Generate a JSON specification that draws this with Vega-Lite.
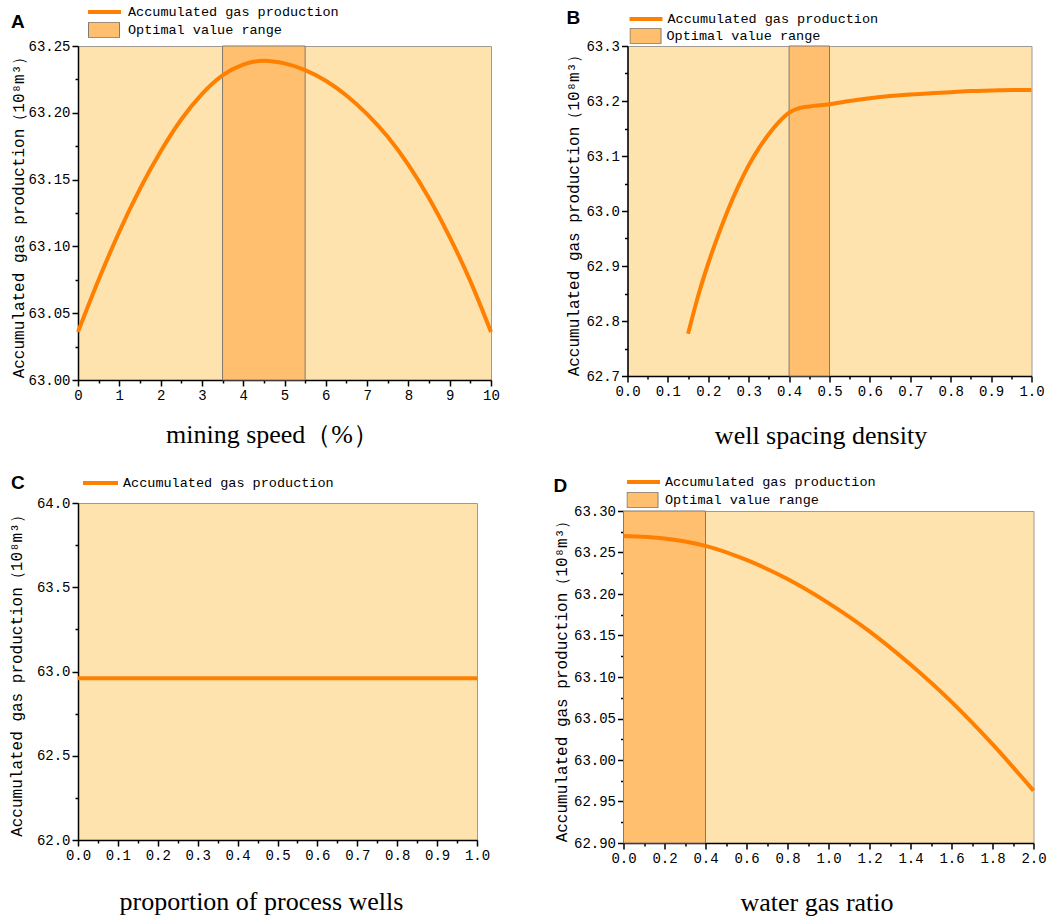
{
  "$schema": "https://vega.github.io/schema/vega-lite/v6.json",
  "background": "white",
  "padding": {"left": 7, "top": 3, "right": 2, "bottom": 0},
  "datasets": {
    "a_curve": [
      {"x": 0, "y": 63.036}, {"x": 0.5, "y": 63.075}, {"x": 1, "y": 63.111}, {"x": 1.5, "y": 63.143},
      {"x": 2, "y": 63.171}, {"x": 2.5, "y": 63.195}, {"x": 3, "y": 63.214}, {"x": 3.5, "y": 63.228},
      {"x": 4, "y": 63.236}, {"x": 4.5, "y": 63.239}, {"x": 5, "y": 63.237}, {"x": 5.5, "y": 63.232},
      {"x": 6, "y": 63.224}, {"x": 6.5, "y": 63.213}, {"x": 7, "y": 63.199}, {"x": 7.5, "y": 63.182},
      {"x": 8, "y": 63.161}, {"x": 8.5, "y": 63.136}, {"x": 9, "y": 63.107}, {"x": 9.5, "y": 63.074},
      {"x": 10, "y": 63.036}
    ],
    "a_range": [{"x": 3.5, "x_end": 5.5}],
    "b_curve": [
      {"x": 0.15, "y": 62.777}, {"x": 0.175, "y": 62.846}, {"x": 0.2, "y": 62.905}, {"x": 0.225, "y": 62.957},
      {"x": 0.25, "y": 63.004}, {"x": 0.275, "y": 63.046}, {"x": 0.3, "y": 63.083}, {"x": 0.325, "y": 63.114},
      {"x": 0.35, "y": 63.14}, {"x": 0.375, "y": 63.162}, {"x": 0.4, "y": 63.179}, {"x": 0.425, "y": 63.187},
      {"x": 0.45, "y": 63.19}, {"x": 0.5, "y": 63.194}, {"x": 0.55, "y": 63.2}, {"x": 0.6, "y": 63.205},
      {"x": 0.65, "y": 63.209}, {"x": 0.7, "y": 63.212}, {"x": 0.75, "y": 63.214}, {"x": 0.8, "y": 63.216},
      {"x": 0.85, "y": 63.218}, {"x": 0.9, "y": 63.219}, {"x": 0.95, "y": 63.22}, {"x": 1.0, "y": 63.22}
    ],
    "b_range": [{"x": 0.4, "x_end": 0.5}],
    "c_curve": [{"x": 0, "y": 62.96}, {"x": 0.5, "y": 62.96}, {"x": 1, "y": 62.96}],
    "d_curve": [
      {"x": 0, "y": 63.27}, {"x": 0.2, "y": 63.267}, {"x": 0.4, "y": 63.258}, {"x": 0.6, "y": 63.241},
      {"x": 0.8, "y": 63.218}, {"x": 1.0, "y": 63.189}, {"x": 1.2, "y": 63.155}, {"x": 1.4, "y": 63.115},
      {"x": 1.6, "y": 63.07}, {"x": 1.8, "y": 63.019}, {"x": 2.0, "y": 62.963}
    ],
    "d_range": [{"x": 0, "x_end": 0.4}]
  },
  "resolve": {
    "scale": {"stroke": "independent", "fill": "independent"},
    "legend": {"stroke": "independent", "fill": "independent"}
  },
  "columns": 2,
  "align": "none",
  "spacing": {"row": 24, "column": 52.5},
  "concat": [
    {
      "width": 413,
      "height": 334,
      "title": {"text": "A", "dx": -67, "dy": 28, "offset": 0, "baseline": "top"},
      "encoding": {
        "x": {
          "field": "x", "type": "quantitative",
          "scale": {"domain": [0, 10], "nice": false, "zero": false},
          "axis": {
            "title": "mining speed（%）", "titleX": 194, "titleY": 54,
            "values": [0, 0.5, 1, 1.5, 2, 2.5, 3, 3.5, 4, 4.5, 5, 5.5, 6, 6.5, 7, 7.5, 8, 8.5, 9, 9.5, 10],
            "labelExpr": "datum.value % 1 === 0 ? format(datum.value, 'd') : ''",
            "tickSize": {"condition": {"test": "datum.value % 1 === 0", "value": 6}, "value": 3}
          }
        }
      },
      "layer": [
        {
          "data": {"name": "a_range"},
          "mark": {"type": "rect", "stroke": "#80796f", "strokeWidth": 1},
          "encoding": {
            "x2": {"field": "x_end"},
            "fill": {
              "datum": "Optimal value range",
              "scale": {"range": ["#FFBF6E"]},
              "legend": {"legendX": 10, "legendY": -24, "labelOffset": 8, "symbolType": "M-1,-0.5H1V0.5H-1Z", "symbolSize": 961}
            }
          }
        },
        {
          "data": {"name": "a_curve"},
          "mark": {"type": "line", "strokeWidth": 4, "interpolate": "monotone"},
          "encoding": {
            "y": {
              "field": "y", "type": "quantitative",
              "scale": {"domain": [63.0, 63.25], "nice": false, "zero": false},
              "axis": {
                "title": "Accumulated gas production（10⁸m³）", "titleX": -60,
                "values": [63.0, 63.025, 63.05, 63.075, 63.1, 63.125, 63.15, 63.175, 63.2, 63.225, 63.25],
                "labelExpr": "abs(datum.value * 20 - round(datum.value * 20)) < 0.001 ? format(datum.value, '.2f') : ''",
                "tickSize": {"condition": {"test": "abs(datum.value * 20 - round(datum.value * 20)) < 0.001", "value": 6}, "value": 3}
              }
            },
            "stroke": {
              "datum": "Accumulated gas production",
              "scale": {"range": ["#FF8000"]},
              "legend": {"legendX": 8, "legendY": -42, "labelOffset": 5, "symbolType": "stroke", "symbolSize": 1089, "symbolStrokeWidth": 4}
            }
          }
        }
      ]
    },
    {
      "width": 404,
      "height": 330,
      "title": {"text": "B", "dx": -61, "dy": 17, "offset": 0, "baseline": "top"},
      "encoding": {
        "x": {
          "field": "x", "type": "quantitative",
          "scale": {"domain": [0, 1], "nice": false, "zero": false},
          "axis": {
            "title": "well spacing density", "titleX": 193, "titleY": 59,
            "values": [0, 0.05, 0.1, 0.15, 0.2, 0.25, 0.3, 0.35, 0.4, 0.45, 0.5, 0.55, 0.6, 0.65, 0.7, 0.75, 0.8, 0.85, 0.9, 0.95, 1],
            "labelExpr": "abs(datum.value * 10 - round(datum.value * 10)) < 0.001 ? format(datum.value, '.1f') : ''",
            "tickSize": {"condition": {"test": "abs(datum.value * 10 - round(datum.value * 10)) < 0.001", "value": 6}, "value": 3}
          }
        }
      },
      "layer": [
        {
          "data": {"name": "b_range"},
          "mark": {"type": "rect", "stroke": "#80796f", "strokeWidth": 1},
          "encoding": {
            "x2": {"field": "x_end"},
            "fill": {
              "datum": "Optimal value range",
              "scale": {"range": ["#FFBF6E"]},
              "legend": {"legendX": 2, "legendY": -18, "labelOffset": 5, "symbolType": "M-1,-0.5H1V0.5H-1Z", "symbolSize": 961}
            }
          }
        },
        {
          "data": {"name": "b_curve"},
          "mark": {"type": "line", "strokeWidth": 4, "interpolate": "monotone"},
          "encoding": {
            "y": {
              "field": "y", "type": "quantitative",
              "scale": {"domain": [62.7, 63.3], "nice": false, "zero": false},
              "axis": {
                "title": "Accumulated gas production（10⁸m³）", "titleX": -54.5, "minExtent": 73.6,
                "values": [62.7, 62.75, 62.8, 62.85, 62.9, 62.95, 63.0, 63.05, 63.1, 63.15, 63.2, 63.25, 63.3],
                "labelExpr": "abs(datum.value * 10 - round(datum.value * 10)) < 0.001 ? format(datum.value, '.1f') : ''",
                "tickSize": {"condition": {"test": "abs(datum.value * 10 - round(datum.value * 10)) < 0.001", "value": 6}, "value": 3}
              }
            },
            "stroke": {
              "datum": "Accumulated gas production",
              "scale": {"range": ["#FF8000"]},
              "legend": {"legendX": 0, "legendY": -35, "labelOffset": 3, "symbolType": "stroke", "symbolSize": 1089, "symbolStrokeWidth": 4}
            }
          }
        }
      ]
    },
    {
      "width": 399,
      "height": 337,
      "title": {"text": "C", "dx": -67, "dy": 18, "offset": 0, "baseline": "top"},
      "data": {"name": "c_curve"},
      "mark": {"type": "line", "strokeWidth": 4},
      "encoding": {
        "x": {
          "field": "x", "type": "quantitative",
          "scale": {"domain": [0, 1], "nice": false, "zero": false},
          "axis": {
            "title": "proportion of process wells", "titleX": 183, "titleY": 61,
            "values": [0, 0.05, 0.1, 0.15, 0.2, 0.25, 0.3, 0.35, 0.4, 0.45, 0.5, 0.55, 0.6, 0.65, 0.7, 0.75, 0.8, 0.85, 0.9, 0.95, 1],
            "labelExpr": "abs(datum.value * 10 - round(datum.value * 10)) < 0.001 ? format(datum.value, '.1f') : ''",
            "tickSize": {"condition": {"test": "abs(datum.value * 10 - round(datum.value * 10)) < 0.001", "value": 6}, "value": 3}
          }
        },
        "y": {
          "field": "y", "type": "quantitative",
          "scale": {"domain": [62.0, 64.0], "nice": false, "zero": false},
          "axis": {
            "title": "Accumulated gas production（10⁸m³）", "titleX": -62,
            "values": [62.0, 62.25, 62.5, 62.75, 63.0, 63.25, 63.5, 63.75, 64.0],
            "labelExpr": "abs(datum.value * 2 - round(datum.value * 2)) < 0.001 ? format(datum.value, '.1f') : ''",
            "tickSize": {"condition": {"test": "abs(datum.value * 2 - round(datum.value * 2)) < 0.001", "value": 6}, "value": 3}
          }
        },
        "stroke": {
          "datum": "Accumulated gas production",
          "scale": {"range": ["#FF8000"]},
          "legend": {"legendX": 3, "legendY": -28, "labelOffset": 3, "symbolType": "stroke", "symbolSize": 1225, "symbolStrokeWidth": 4}
        }
      }
    },
    {
      "width": 410,
      "height": 332,
      "title": {"text": "D", "dx": -70, "dy": 22, "offset": 0, "baseline": "top"},
      "encoding": {
        "x": {
          "field": "x", "type": "quantitative",
          "scale": {"domain": [0, 2], "nice": false, "zero": false},
          "axis": {
            "title": "water gas ratio", "titleX": 193, "titleY": 59,
            "values": [0, 0.1, 0.2, 0.3, 0.4, 0.5, 0.6, 0.7, 0.8, 0.9, 1, 1.1, 1.2, 1.3, 1.4, 1.5, 1.6, 1.7, 1.8, 1.9, 2],
            "labelExpr": "abs(datum.value * 5 - round(datum.value * 5)) < 0.001 ? format(datum.value, '.1f') : ''",
            "tickSize": {"condition": {"test": "abs(datum.value * 5 - round(datum.value * 5)) < 0.001", "value": 6}, "value": 3}
          }
        }
      },
      "layer": [
        {
          "data": {"name": "d_range"},
          "mark": {"type": "rect", "stroke": "#80796f", "strokeWidth": 1},
          "encoding": {
            "x2": {"field": "x_end"},
            "fill": {
              "datum": "Optimal value range",
              "scale": {"range": ["#FFBF6E"]},
              "legend": {"legendX": 3, "legendY": -19, "labelOffset": 6.5, "symbolType": "M-1,-0.5H1V0.5H-1Z", "symbolSize": 961}
            }
          }
        },
        {
          "data": {"name": "d_curve"},
          "mark": {"type": "line", "strokeWidth": 4, "interpolate": "monotone"},
          "encoding": {
            "y": {
              "field": "y", "type": "quantitative",
              "scale": {"domain": [62.9, 63.3], "nice": false, "zero": false},
              "axis": {
                "title": "Accumulated gas production（10⁸m³）", "titleX": -62,
                "values": [62.9, 62.925, 62.95, 62.975, 63.0, 63.025, 63.05, 63.075, 63.1, 63.125, 63.15, 63.175, 63.2, 63.225, 63.25, 63.275, 63.3],
                "labelExpr": "abs(datum.value * 20 - round(datum.value * 20)) < 0.001 ? format(datum.value, '.2f') : ''",
                "tickSize": {"condition": {"test": "abs(datum.value * 20 - round(datum.value * 20)) < 0.001", "value": 6}, "value": 3}
              }
            },
            "stroke": {
              "datum": "Accumulated gas production",
              "scale": {"range": ["#FF8000"]},
              "legend": {"legendX": 1.5, "legendY": -37, "labelOffset": 3, "symbolType": "stroke", "symbolSize": 1089, "symbolStrokeWidth": 4}
            }
          }
        }
      ]
    }
  ],
  "config": {
    "view": {"fill": "#FEE3AE", "stroke": "#A09A90", "strokeWidth": 1},
    "title": {
      "anchor": "start", "frame": "group", "orient": "top", "offset": 0,
      "font": "Liberation Sans", "fontSize": 19, "fontWeight": "bold", "color": "black", "baseline": "top"
    },
    "axis": {
      "grid": false,
      "domainColor": "black", "domainWidth": 1.5,
      "tickColor": "black", "tickWidth": 1.5,
      "labelFont": "Liberation Mono, DejaVu Sans Mono", "labelFontSize": 14, "labelColor": "black", "labelPadding": 2,
      "labelFlush": false, "labelOverlap": false,
      "titleColor": "black", "titleFontWeight": "normal"
    },
    "axisX": {"titleFont": "Liberation Serif", "titleFontSize": 26, "titleBaseline": "middle", "titleAlign": "center"},
    "axisY": {"titleFont": "Liberation Mono, DejaVu Sans Mono", "titleFontSize": 16, "titleBaseline": "middle", "titleAlign": "center"},
    "legend": {
      "orient": "none", "title": null, "padding": 0, "clipHeight": 16, "labelLimit": 400,
      "labelFont": "Liberation Mono, DejaVu Sans Mono", "labelFontSize": 13.5, "labelColor": "black",
      "symbolStrokeColor": "#80796f", "symbolStrokeWidth": 1, "symbolOpacity": 1
    }
  }
}
